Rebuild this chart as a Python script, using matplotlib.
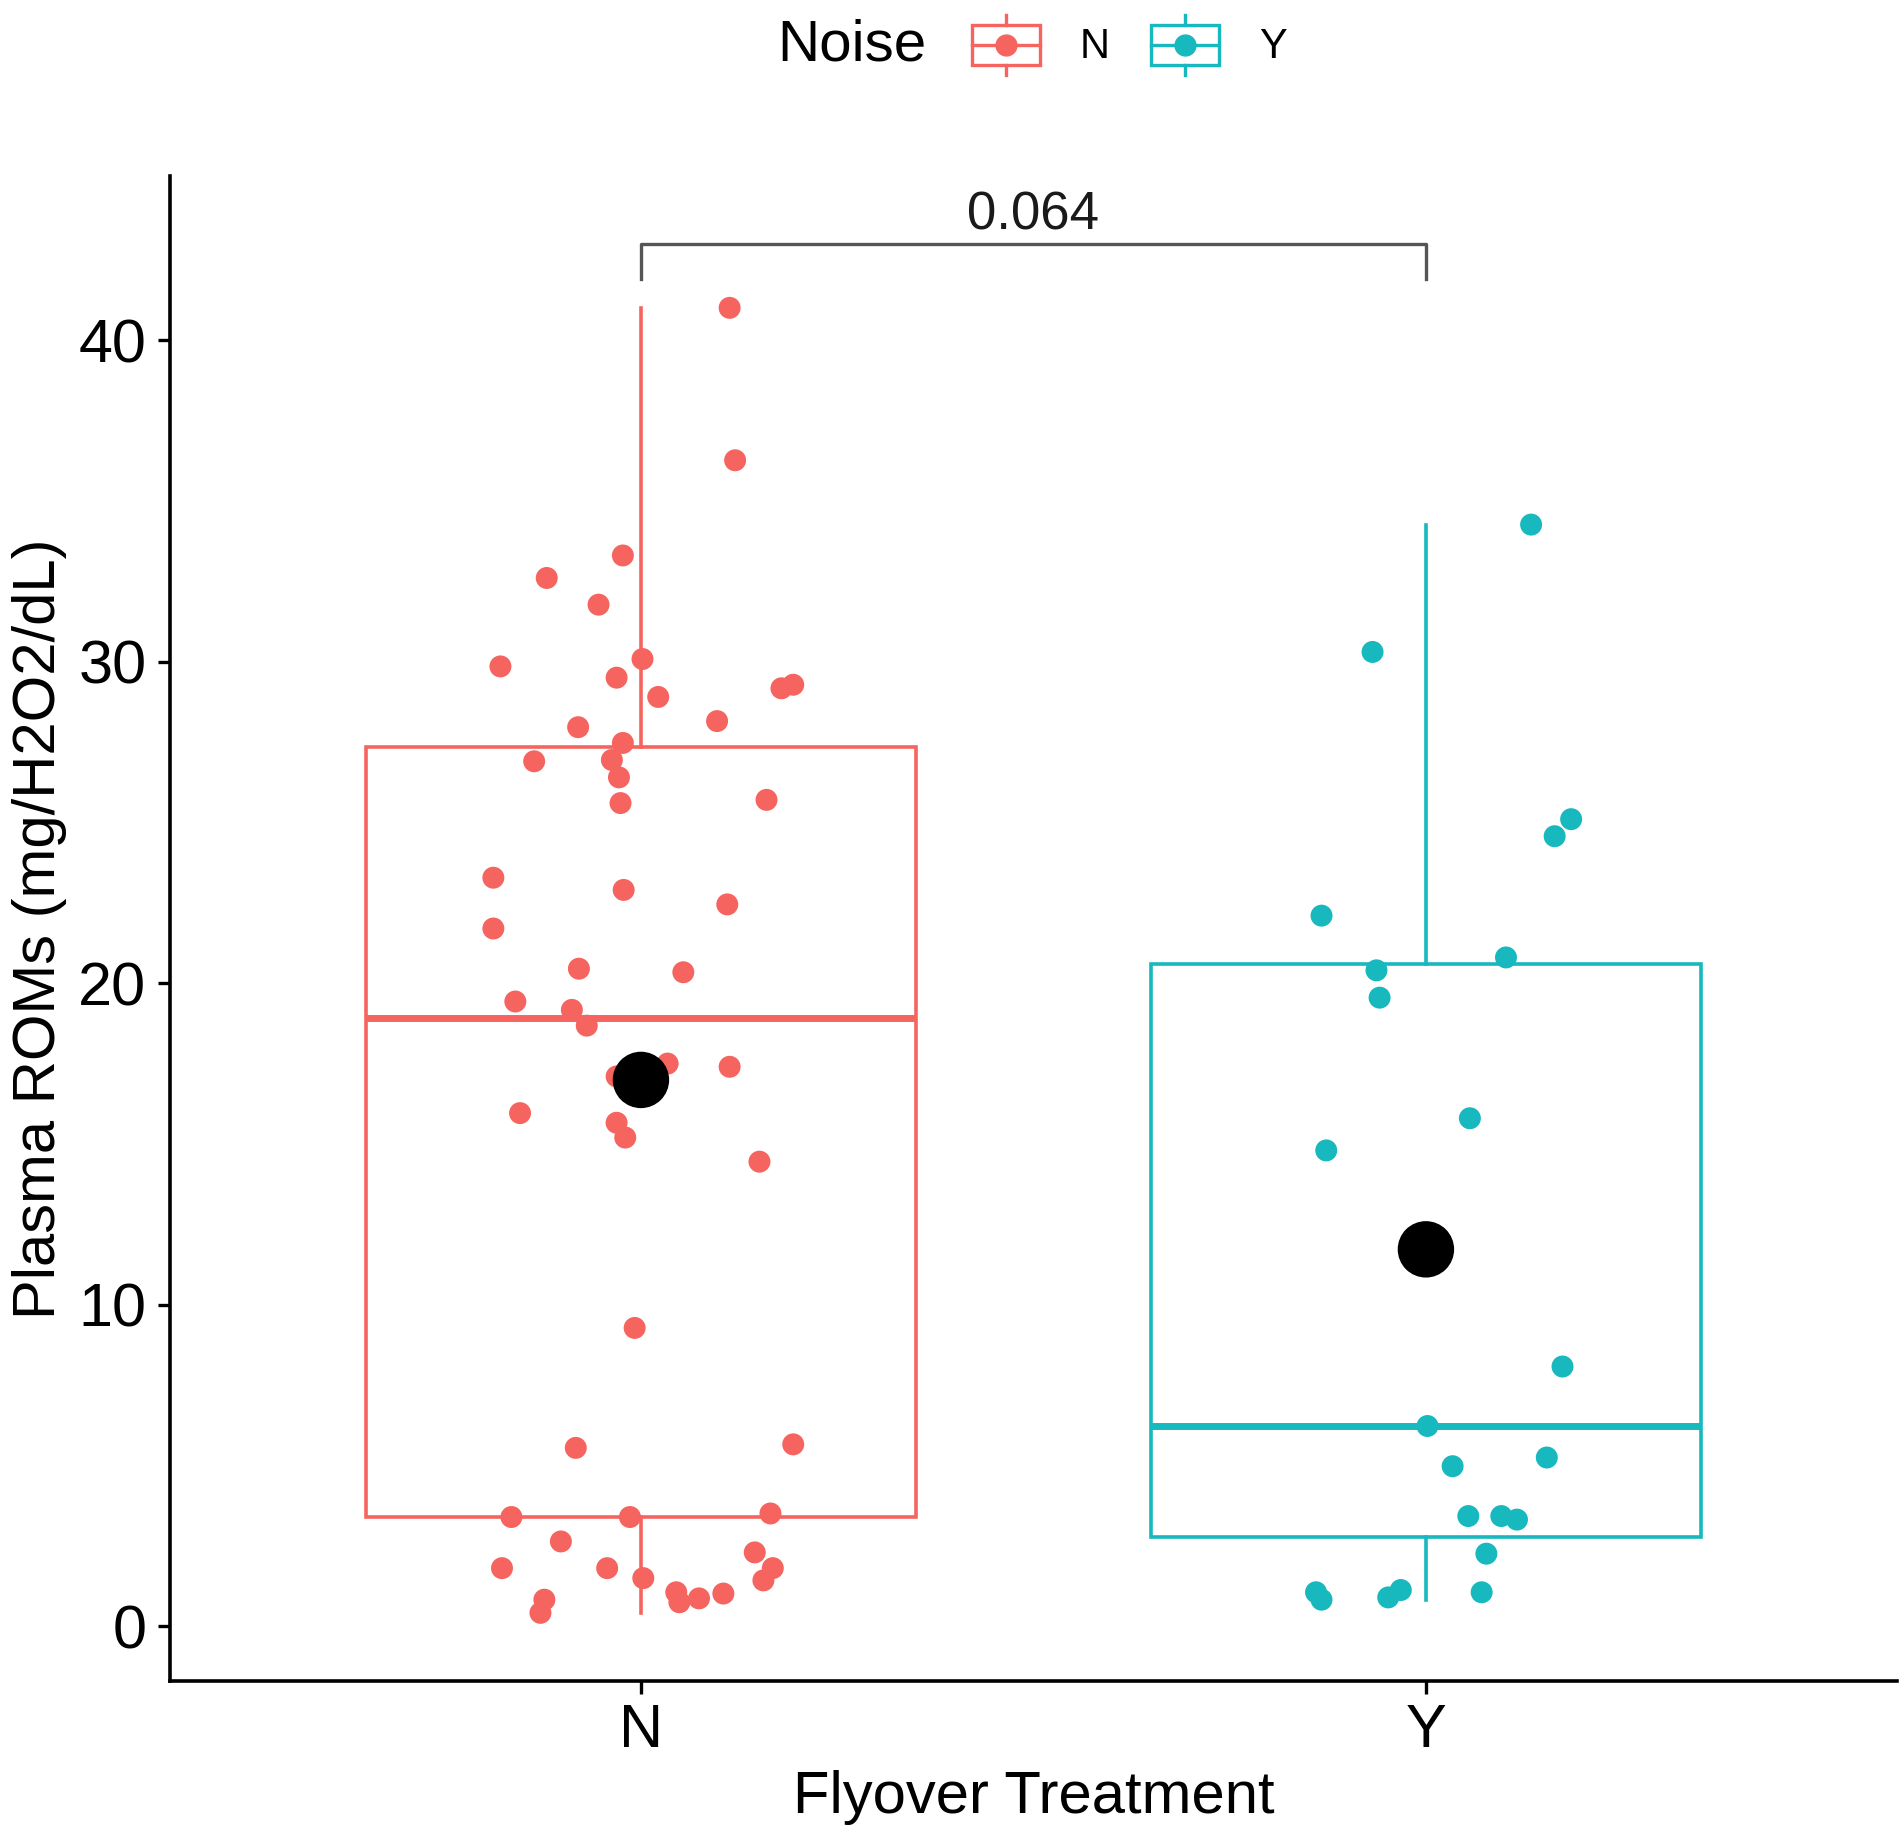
import matplotlib
matplotlib.use('Agg')
import matplotlib.pyplot as plt
import numpy as np
from matplotlib.legend_handler import HandlerBase
from matplotlib.patches import Rectangle
from matplotlib.lines import Line2D

plt.rcParams['font.family'] = ['Liberation Sans', 'DejaVu Sans']

# --- datos ---
categorias = ['N', 'Y']
colores = {'N': '#F5645F', 'Y': '#17B8BE'}

# grupo N: valor y desplazamiento horizontal (jitter) de cada punto
valores_n = [41.0, 36.26, 33.3, 32.6, 31.77, 29.85, 30.08, 29.5, 28.9, 29.17,
             29.28, 27.96, 28.15, 27.47, 26.9, 26.94, 26.4, 25.7, 25.6, 23.28,
             22.9, 21.7, 22.45, 20.45, 20.34, 19.43, 19.17, 18.68, 17.5, 17.1,
             17.4, 15.96, 15.66, 15.2, 14.45, 9.28, 5.55, 5.66, 3.4, 3.4,
             3.51, 2.64, 1.81, 1.81, 1.5, 2.3, 1.81, 1.43, 0.83, 0.42,
             1.06, 0.75, 0.87, 1.02]
jitter_n = [0.113, 0.120, -0.023, -0.120, -0.054, -0.179, 0.002, -0.031, 0.022, 0.179,
            0.194, -0.080, 0.097, -0.023, -0.136, -0.037, -0.028, 0.160, -0.026, -0.188,
            -0.022, -0.188, 0.110, -0.079, 0.054, -0.160, -0.088, -0.069, 0.034, -0.031,
            0.113, -0.154, -0.031, -0.020, 0.151, -0.008, -0.083, 0.194, -0.165, -0.014,
            0.165, -0.102, -0.177, -0.043, 0.003, 0.145, 0.168, 0.156, -0.123, -0.128,
            0.045, 0.049, 0.074, 0.105]

# grupo Y
valores_y = [34.26, 30.3, 25.1, 24.57, 22.1, 20.8, 20.4, 19.55, 15.8, 14.8,
             8.08, 6.23, 5.25, 4.98, 3.43, 3.43, 3.32, 2.26, 1.06, 1.06,
             0.83, 0.9, 1.13]
jitter_y = [0.134, -0.068, 0.185, 0.164, -0.133, 0.102, -0.063, -0.059, 0.056, -0.127,
            0.174, 0.002, 0.154, 0.034, 0.054, 0.096, 0.116, 0.077, 0.071, -0.140,
            -0.133, -0.048, -0.032]

p_valor = '0.064'
y_corchete = 43.0

datos = [np.array(valores_n), np.array(valores_y)]
jitters = [np.array(jitter_n), np.array(jitter_y)]


class ClaveCaja(HandlerBase):
    """Dibuja la clave de leyenda con forma de caja (estilo ggplot)."""
    def create_artists(self, legend, orig_handle, xdescent, ydescent,
                       width, height, fontsize, trans):
        c = orig_handle.get_color()
        x0, y0 = -xdescent, -ydescent
        xm = x0 + width / 2
        ym = y0 + height / 2
        caja = Rectangle((x0, y0 + 0.17 * height), width, 0.66 * height,
                         facecolor='white', edgecolor=c, lw=2.4, transform=trans)
        b1 = Line2D([xm, xm], [y0, y0 + 0.17 * height], color=c, lw=2.4, transform=trans)
        b2 = Line2D([xm, xm], [y0 + 0.83 * height, y0 + height], color=c, lw=2.4, transform=trans)
        med = Line2D([x0, x0 + width], [ym, ym], color=c, lw=2.4, transform=trans)
        punto = Line2D([xm], [ym], marker='o', ms=15, color=c, lw=0, transform=trans)
        return [caja, b1, b2, med, punto]


fig = plt.figure(figsize=(19.03, 18.39), dpi=100)
ax = fig.add_axes([0.0893, 0.0859, 0.9075, 0.8184])

posiciones = np.arange(1, len(categorias) + 1)

for i, cat in enumerate(categorias):
    col = colores[cat]
    ax.boxplot(datos[i], positions=[posiciones[i]], widths=0.7, showcaps=False,
               showfliers=False, patch_artist=True,
               boxprops=dict(facecolor='white', edgecolor=col, linewidth=2.6),
               whiskerprops=dict(color=col, linewidth=2.6),
               medianprops=dict(color=col, linewidth=5.0),
               zorder=1)
    ax.scatter(posiciones[i] + jitters[i], datos[i], s=250, color=col,
               edgecolor='none', zorder=3)
    ax.scatter([posiciones[i]], [datos[i].mean()], s=1650, color='black',
               edgecolor='none', zorder=4)

# corchete de comparacion
ax.plot([posiciones[0], posiciones[0], posiciones[1], posiciones[1]],
        [y_corchete - 1.1, y_corchete, y_corchete, y_corchete - 1.1],
        color='#555555', lw=2.4, zorder=2)
ax.text(posiciones.mean(), y_corchete + 0.1, p_valor, ha='center', va='bottom',
        fontsize=38, color='#1a1a1a')

ax.set_xlim(0.4, 2.6)
ax.set_ylim(-1.7, 45.1)
ax.set_xticks(posiciones)
ax.set_xticklabels(categorias)
ax.set_yticks([0, 10, 20, 30, 40])

for lado in ['top', 'right']:
    ax.spines[lado].set_visible(False)
for lado in ['left', 'bottom']:
    ax.spines[lado].set_linewidth(2.6)
    ax.spines[lado].set_color('black')

ax.tick_params(axis='both', length=9, width=2.4, labelsize=44, colors='black')
ax.tick_params(axis='y', pad=8)
ax.tick_params(axis='x', pad=7)

ax.set_xlabel('Flyover Treatment', fontsize=43, labelpad=7)
ax.set_ylabel('Plasma ROMs (mg/H2O2/dL)', fontsize=43, labelpad=8)

# leyenda superior horizontal
manejadores = [Line2D([], [], color=colores[c]) for c in categorias]
fig.legend(manejadores, categorias, loc='center', bbox_to_anchor=(0.5935, 0.9755),
           ncol=2, frameon=False, fontsize=30, handler_map={Line2D: ClaveCaja()},
           handlelength=1.63, handleheight=1.85, handletextpad=0.96,
           columnspacing=1.0, borderpad=0, borderaxespad=0)
fig.text(0.4871, 0.9755, 'Noise', ha='right', va='center', fontsize=42)

plt.savefig('out.png', dpi=100)
